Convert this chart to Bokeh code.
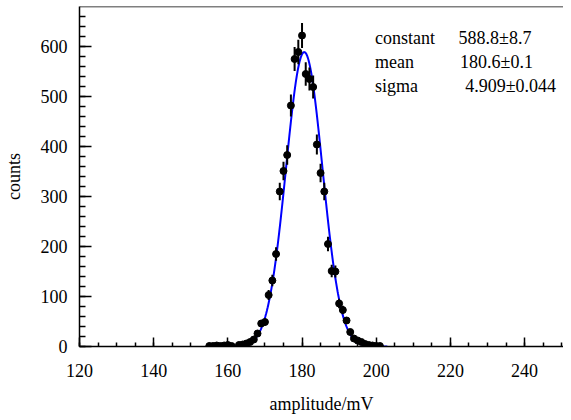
import numpy as np
from bokeh.plotting import figure
from bokeh.models import ColumnDataSource, Range1d, FixedTicker, Span
from bokeh.core.properties import value
from bokeh.embed import file_html
from bokeh.resources import INLINE

# histogram bins (amplitude, mV) and counts
amplitude = [155, 156, 157, 158, 159, 160, 161,
             163, 164, 165, 166, 167, 168, 169, 170, 171, 172, 173, 174, 175, 176, 177, 178, 179, 180,
             181, 182, 183, 184, 185, 186, 187, 188, 189, 190, 191, 192, 193, 194, 195, 196, 197, 198, 199, 200, 201]
counts = [1, 1, 2, 1, 2, 3, 1,
          3, 4, 6, 9, 14, 26, 46, 49, 103, 132, 185, 310, 351, 383, 482, 575, 589, 622,
          545, 535, 519, 404, 347, 310, 205, 151, 150, 86, 73, 52, 29, 16, 12, 9, 5, 3, 2, 1, 1]

# fit parameters
fit_names = ["constant", "mean", "sigma"]
fit_values = ["588.8\u00b18.7", "180.6\u00b10.1", "4.909\u00b10.044"]
fit_constant, fit_mean, fit_sigma = 588.8, 180.6, 4.909

x_ticks = [120, 140, 160, 180, 200, 220, 240]
y_ticks = [0, 100, 200, 300, 400, 500, 600]

FONT = "Liberation Serif"
Y_TOP = 680

p = figure(width=563, height=420, output_backend="svg", toolbar_location=None,
           x_range=Range1d(120, 250.5), y_range=Range1d(0, Y_TOP),
           min_border_left=72, min_border_right=0, min_border_top=6, min_border_bottom=74)
p.background_fill_color = "white"
p.border_fill_color = "white"
p.grid.visible = False
p.outline_line_color = None
p.add_layout(Span(location=Y_TOP, dimension="width", line_color="black", line_width=1.5))

a = np.array(amplitude, dtype=float)
c = np.array(counts, dtype=float)
err = np.sqrt(c)
src = ColumnDataSource(dict(x=a, y=c, lo=c - err, hi=c + err))

# fit curve
xf = np.linspace(158, 203, 400)
yf = fit_constant * np.exp(-0.5 * ((xf - fit_mean) / fit_sigma) ** 2)
p.line(xf, yf, line_color="#0000ff", line_width=2)

p.segment(x0="x", y0="lo", x1="x", y1="hi", source=src, line_color="black", line_width=2)
p.scatter("x", "y", source=src, size=7, color="black")

# axes
for ax in (p.xaxis[0], p.yaxis[0]):
    ax.axis_line_width = 1.5
    ax.major_tick_line_width = 1.5
    ax.minor_tick_line_width = 1.5
    ax.major_tick_out = 0
    ax.minor_tick_out = 0
    ax.major_label_text_font = FONT
    ax.major_label_text_font_size = "18px"
    ax.major_label_text_color = "black"
    ax.axis_label_text_font = FONT
    ax.axis_label_text_font_size = "18px"
    ax.axis_label_text_font_style = "normal"
    ax.axis_label_text_color = "black"

p.xaxis.ticker = FixedTicker(ticks=x_ticks, minor_ticks=list(range(120, 255, 5)))
p.yaxis.ticker = FixedTicker(ticks=y_ticks, minor_ticks=list(range(0, 680, 20)))
p.xaxis.major_tick_in = 9
p.xaxis.minor_tick_in = 4
p.yaxis.major_tick_in = 12
p.yaxis.minor_tick_in = 6
p.xaxis.major_label_standoff = 17
p.yaxis.major_label_standoff = 12
p.xaxis.axis_label = "amplitude/mV"
p.yaxis.axis_label = "counts"
p.xaxis.axis_label_standoff = 14
p.yaxis.axis_label_standoff = 14

# fit statistics box
ys = [618, 570, 522]
p.text(x=[199.7] * 3, y=ys, text=fit_names, text_font=value(FONT),
       text_font_size="18px", text_baseline="middle", text_color="black")
p.text(x=[222.2, 222.6, 224.0], y=ys, text=fit_values, text_font=value(FONT),
       text_font_size="18px", text_baseline="middle", text_color="black")

open("out.html", "w").write(file_html(p, INLINE))
